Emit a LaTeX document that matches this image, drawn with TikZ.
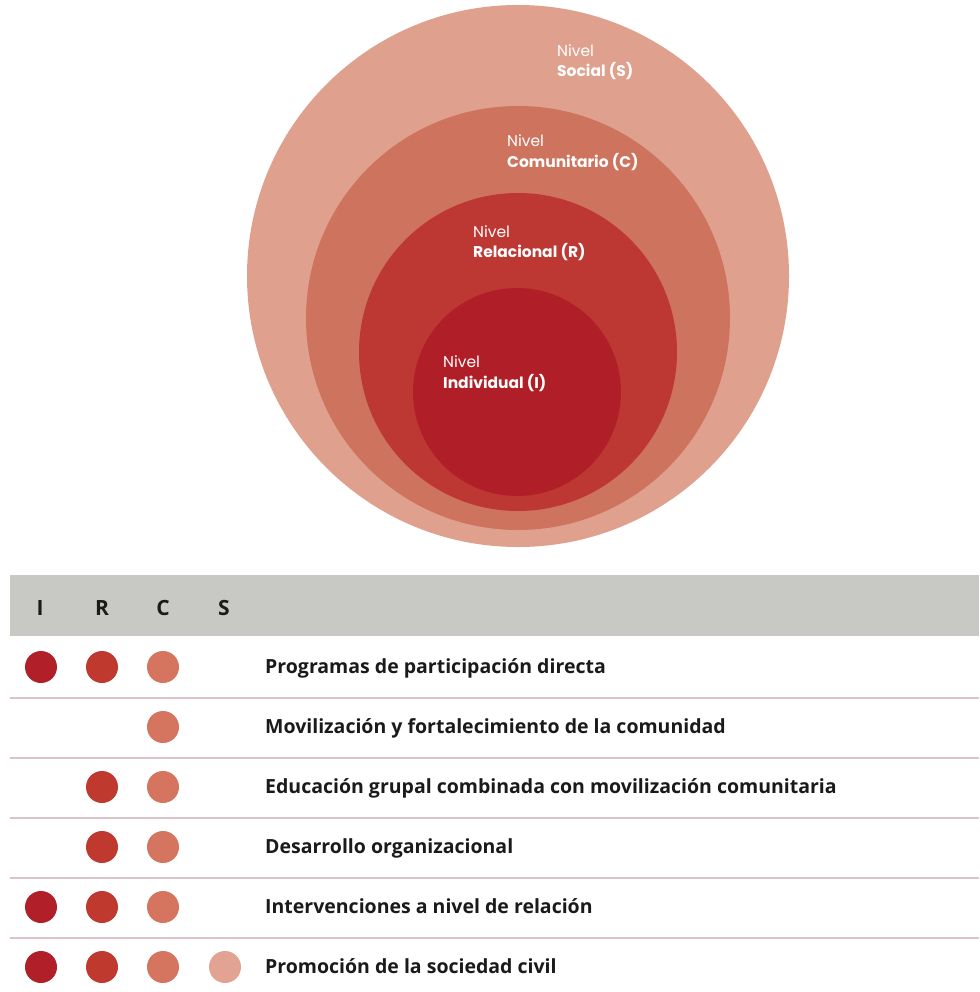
\documentclass[tikz,border=0pt]{standalone}
\usepackage{fontspec}
\newfontfamily\popfont{Poppins}
\newfontfamily\tabfont{Open Sans}
\definecolor{cS}{HTML}{DFA08D}
\definecolor{cC}{HTML}{CD735E}
\definecolor{cR}{HTML}{BE3833}
\definecolor{cI}{HTML}{B01F27}
\definecolor{dI}{HTML}{B11F28}
\definecolor{dR}{HTML}{C0392F}
\definecolor{dC}{HTML}{D5745F}
\definecolor{dS}{HTML}{E3A392}
\definecolor{barc}{HTML}{C8C8C4}
\definecolor{sepc}{HTML}{D9C5C8}
\definecolor{txtc}{HTML}{1A1A1A}
\begin{document}
\begin{tikzpicture}[x=1pt,y=-1pt]
\tikzset{
 ring/.style={circle, inner sep=0pt, minimum size=#1},
 lvlA/.style={anchor=base west, inner sep=0pt, text=white, font=\popfont\fontsize{15.5}{17}\selectfont},
 lvlB/.style={anchor=base west, inner sep=0pt, text=white, font=\popfont\bfseries\fontsize{15.5}{17}\selectfont},
 dot/.style={circle, inner sep=0pt, minimum size=32pt},
 rowtxt/.style={anchor=base west, inner sep=0pt, text=txtc, font=\tabfont\bfseries\fontsize{19.5}{21}\selectfont},
 hdr/.style={anchor=base, inner sep=0pt, text=txtc, font=\tabfont\bfseries\fontsize{21}{23}\selectfont},
 sepline/.style={draw=sepc, line width=2pt}
}
\useasboundingbox (0,0) rectangle (979,992);
\fill[white] (0,0) rectangle (979,992);
% nested circles
\node[ring=542pt, fill=cS] (ringS) at (518,276) {};
\node[ring=424pt, fill=cC] (ringC) at (518,318) {};
\node[ring=318pt, fill=cR] (ringR) at (518,352) {};
\node[ring=208pt, fill=cI] (ringI) at (517,392) {};
% labels
\node[lvlA] (nS) at (557,57) {Nivel};
\node[lvlB] (tS) at (557,77) {Social (S)};
\node[lvlA] (nC) at (507,147) {Nivel};
\node[lvlB] (tC) at (507,168) {Comunitario (C)};
\node[lvlA] (nR) at (473,237) {Nivel};
\node[lvlB] (tR) at (473,258) {Relacional (R)};
\node[lvlA] (nI) at (443,367) {Nivel};
\node[lvlB] (tI) at (443,388) {Individual (I)};
% table header
\fill[barc] (10,575) rectangle (979,636);
\node[hdr] (hI) at (40,615) {I};
\node[hdr] (hR) at (102,615) {R};
\node[hdr] (hC) at (163,615) {C};
\node[hdr] (hS) at (224,615) {S};
% separators
\foreach \yy in {698,758,818,878,938} \draw[sepline] (10,\yy) -- (979,\yy);
% row 1
\node[dot, fill=dI] (r1I) at (41,667) {};
\node[dot, fill=dR] (r1R) at (102,667) {};
\node[dot, fill=dC] (r1C) at (163,667) {};
\node[rowtxt] (t1) at (265,673) {Programas de participación directa};
% row 2
\node[dot, fill=dC] (r2C) at (163,727) {};
\node[rowtxt] (t2) at (265,733) {Movilización y fortalecimiento de la comunidad};
% row 3
\node[dot, fill=dR] (r3R) at (102,787) {};
\node[dot, fill=dC] (r3C) at (163,787) {};
\node[rowtxt] (t3) at (265,793) {Educación grupal combinada con movilización comunitaria};
% row 4
\node[dot, fill=dR] (r4R) at (102,847) {};
\node[dot, fill=dC] (r4C) at (163,847) {};
\node[rowtxt] (t4) at (265,853) {Desarrollo organizacional};
% row 5
\node[dot, fill=dI] (r5I) at (41,907) {};
\node[dot, fill=dR] (r5R) at (102,907) {};
\node[dot, fill=dC] (r5C) at (163,907) {};
\node[rowtxt] (t5) at (265,913) {Intervenciones a nivel de relación};
% row 6
\node[dot, fill=dI] (r6I) at (41,967) {};
\node[dot, fill=dR] (r6R) at (102,967) {};
\node[dot, fill=dC] (r6C) at (163,967) {};
\node[dot, fill=dS] (r6S) at (225,967) {};
\node[rowtxt] (t6) at (265,973) {Promoción de la sociedad civil};
\end{tikzpicture}
\end{document}
